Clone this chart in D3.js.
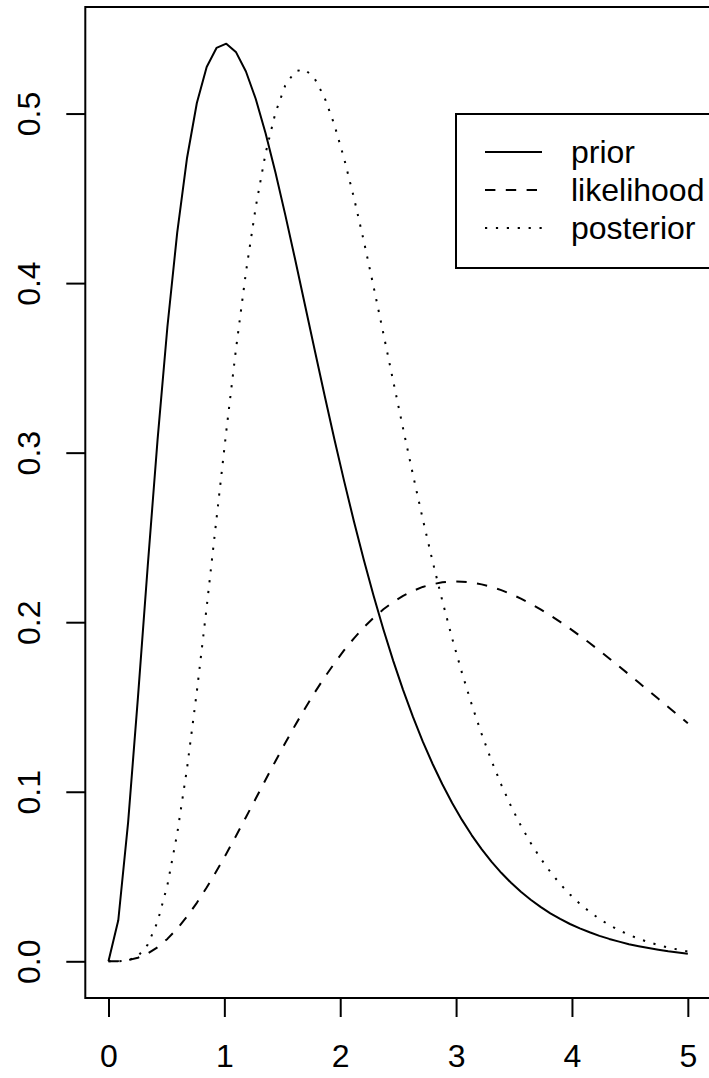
<!DOCTYPE html>
<html><head><meta charset="utf-8">
<script src="https://cdn.jsdelivr.net/npm/d3@7"></script>
<style>html,body{margin:0;padding:0;background:#fff;overflow:hidden}</style>
</head><body>
<svg id="c" width="709" height="1078"></svg>
<script>
const xs = [0,0.0847,0.1695,0.2542,0.3390,0.4237,0.5085,0.5932,0.6780,0.7627,0.8475,0.9322,1.0169,1.1017,1.1864,1.2712,1.3559,1.4407,1.5254,1.6102,1.6949,1.7797,1.8644,1.9492,2.0339,2.1186,2.2034,2.2881,2.3729,2.4576,2.5424,2.6271,2.7119,2.7966,2.8814,2.9661,3.0508,3.1356,3.2203,3.3051,3.3898,3.4746,3.5593,3.6441,3.7288,3.8136,3.8983,3.9831,4.0678,4.1525,4.2373,4.3220,4.4068,4.4915,4.5763,4.6610,4.7458,4.8305,4.9153,5];
const prior = [0,0.0242,0.0819,0.1555,0.2333,0.3077,0.3741,0.4298,0.4738,0.5062,0.5275,0.5387,0.5412,0.5361,0.5248,0.5086,0.4884,0.4654,0.4404,0.4142,0.3874,0.3605,0.3340,0.3081,0.2832,0.2594,0.2368,0.2156,0.1957,0.1772,0.1601,0.1443,0.1297,0.1165,0.1044,0.0934,0.0834,0.0743,0.0662,0.0588,0.0522,0.0463,0.0410,0.0363,0.0321,0.0283,0.0250,0.0220,0.0194,0.0171,0.0150,0.0132,0.0116,0.0101,0.0089,0.0078,0.0068,0.0059,0.0052,0.0045];
const likelihood = [0,0.0001,0.0007,0.0021,0.0046,0.0083,0.0132,0.0192,0.0264,0.0345,0.0435,0.0532,0.0634,0.0741,0.0850,0.0960,0.1071,0.1180,0.1287,0.1391,0.1490,0.1585,0.1674,0.1757,0.1835,0.1905,0.1969,0.2026,0.2076,0.2119,0.2155,0.2184,0.2208,0.2224,0.2235,0.2240,0.2239,0.2234,0.2223,0.2208,0.2189,0.2166,0.2139,0.2109,0.2076,0.2040,0.2002,0.1962,0.1920,0.1877,0.1832,0.1786,0.1739,0.1692,0.1644,0.1596,0.1548,0.1500,0.1452,0.1404];
const posterior = [0,0.0000,0.0005,0.0030,0.0098,0.0233,0.0449,0.0753,0.1138,0.1591,0.2089,0.2609,0.3127,0.3618,0.4064,0.4450,0.4766,0.5004,0.5165,0.5249,0.5261,0.5206,0.5095,0.4935,0.4734,0.4503,0.4249,0.3979,0.3701,0.3421,0.3143,0.2872,0.2610,0.2361,0.2126,0.1905,0.1701,0.1513,0.1341,0.1184,0.1042,0.0914,0.0800,0.0698,0.0607,0.0527,0.0456,0.0394,0.0339,0.0292,0.0250,0.0214,0.0183,0.0156,0.0133,0.0113,0.0096,0.0081,0.0069,0.0058];
const xTicks = [0,1,2,3,4,5];
const yTicks = [0,0.1,0.2,0.3,0.4,0.5];
const yTickLabels = ["0.0","0.1","0.2","0.3","0.4","0.5"];
const legendLabels = ["prior","likelihood","posterior"];

const FONT = "'Liberation Sans', Arial, Helvetica, sans-serif";
const FS = 32;
const svg = d3.select("#c");
const L = 85.3, R = 711, T = 7, B = 998;
const ymax = d3.max([...prior, ...likelihood, ...posterior]);
const ext = 0.04 * ymax;
const x = d3.scaleLinear().domain([-0.2, 5.2]).range([L, R]);
const y = d3.scaleLinear().domain([-ext, ymax + ext]).range([B, T]);

const styles = [
  {data: prior, dash: null},
  {data: likelihood, dash: "10.4,10.4"},
  {data: posterior, dash: "2.2,8.7"}
];
const line = d3.line().x((d,i) => x(xs[i])).y(d => y(d));
styles.forEach(s => {
  svg.append("path").attr("d", line(s.data)).attr("fill","none")
    .attr("stroke","#000").attr("stroke-width",2)
    .attr("stroke-dasharray", s.dash).attr("stroke-linejoin","round");
});

// box
svg.append("rect").attr("x",L).attr("y",T).attr("width",R-L).attr("height",B-T)
  .attr("fill","none").attr("stroke","#000").attr("stroke-width",2);

// x axis
const xa = svg.append("g").attr("transform",`translate(0,${B})`)
  .call(d3.axisBottom(x).tickValues(xTicks).tickSize(19).tickPadding(0).tickFormat(d3.format("d")));
xa.select(".domain").remove();
xa.selectAll("line").attr("stroke","#000").attr("stroke-width",2);
xa.selectAll("text").attr("font-family",FONT).attr("font-size",FS).attr("fill","#000")
  .attr("dy",null).attr("y",69);
// y axis
const ya = svg.append("g").attr("transform",`translate(${L},0)`)
  .call(d3.axisLeft(y).tickValues(yTicks).tickSize(19).tickFormat((d,i)=>yTickLabels[i]));
ya.select(".domain").remove();
ya.selectAll("line").attr("stroke","#000").attr("stroke-width",2);
ya.selectAll("text").attr("font-family",FONT).attr("font-size",FS).attr("fill","#000")
  .attr("x",null).attr("dy",null).attr("text-anchor","middle")
  .attr("transform","translate(-45,0) rotate(-90)");

// legend
const lg = svg.append("g");
lg.append("rect").attr("x",456).attr("y",114).attr("width",R-456).attr("height",154)
  .attr("fill","#fff").attr("stroke","#000").attr("stroke-width",2);
legendLabels.forEach((lab,i) => {
  const cy = 152 + i*38;
  lg.append("line").attr("x1",485).attr("x2",542).attr("y1",cy).attr("y2",cy)
    .attr("stroke","#000").attr("stroke-width",2).attr("stroke-dasharray",styles[i].dash);
  lg.append("text").attr("x",571).attr("y",cy+11).text(lab)
    .attr("font-family",FONT).attr("font-size",FS).attr("fill","#000");
});
</script>
</body></html>
